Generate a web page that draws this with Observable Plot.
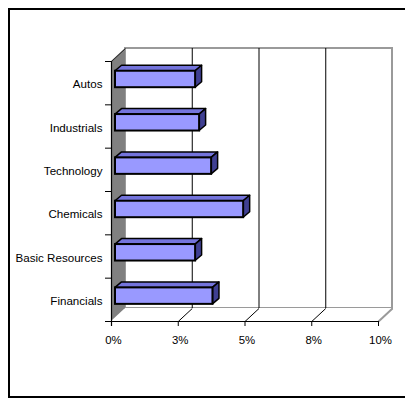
<!DOCTYPE html>
<html>
<head>
<meta charset="utf-8">
<script src="https://cdn.jsdelivr.net/npm/d3@7"></script>
<script src="https://cdn.jsdelivr.net/npm/@observablehq/plot@0.6"></script>
<style>
  html, body { margin: 0; padding: 0; background: white; }
  #wrap { position: relative; width: 405px; height: 407px; overflow: hidden; }
  #frame { position: absolute; left: 8px; top: 8px; width: 420px; height: 386px;
           border: 2px solid black; border-right: none; }
  #chart { position: absolute; left: 0; top: 0; }
</style>
</head>
<body>
<div id="wrap"><div id="frame"></div><div id="chart"></div></div>
<script>
// ---- data ----
const categories = ["Autos", "Industrials", "Technology", "Chemicals", "Basic Resources", "Financials"];
const values = [3.0, 3.15, 3.6, 4.8, 3.0, 3.65];       // percent
const xTicks = [0, 2.5, 5, 7.5, 10];
const xTickLabels = ["0%", "3%", "5%", "8%", "10%"];
const gridValues = [2.5, 5, 7.5];

// ---- layout constants (pixels) ----
const W = 405, H = 407;
const mL = 111, mR = 27, mT = 61, mB = 86;
const kx = (W - mL - mR) / 10;        // px per x unit
const ky = (H - mT - mB) / categories.length; // px per category
const WALL_DX = 14, WALL_DY = -13;    // depth of walls
const BAR_DX = 4, BAR_DY = -3.7;      // bar front face offset in depth
const BDX = 6.5, BDY = -5.5;          // bar depth
const wdx = WALL_DX / kx, wdy = WALL_DY / ky;
const bdx = BDX / kx, bdy = BDY / ky;
const n = categories.length;

const bars = categories.map((c, i) => ({c, i, v: values[i], y1: i + 0.31, y2: i + 0.69}));
const topPts = bars.flatMap(b => [
  {c: b.c, y: b.y1, x1: 0, x2: b.v},
  {c: b.c, y: b.y1 + bdy, x1: bdx, x2: b.v + bdx}
]);
const sidePts = bars.flatMap(b => [
  {c: b.c, x: b.v, y1: b.y1, y2: b.y2},
  {c: b.c, x: b.v + bdx, y1: b.y1 + bdy, y2: b.y2 + bdy}
]);
const bounds = d3.range(n + 1);

const chart = Plot.plot({
  width: W, height: H,
  marginLeft: mL, marginRight: mR, marginTop: mT, marginBottom: mB,
  x: {domain: [0, 10], axis: null},
  y: {domain: [0, n], reverse: true, axis: null},
  style: {background: "transparent", fontFamily: "'Liberation Sans', Arial, sans-serif", fontSize: "11px", color: "black"},
  marks: [
    // back wall
    Plot.rect([0], {x1: 0, x2: 10, y1: 0, y2: n, dx: WALL_DX, dy: WALL_DY, fill: "white", stroke: "#9a9a9a", strokeWidth: 2}),
    Plot.ruleX(gridValues, {y1: 0, y2: n, dx: WALL_DX, dy: WALL_DY, stroke: "black", strokeWidth: 1}),
    // floor
    Plot.areaX([{y: n, x1: 0, x2: 10}, {y: n + wdy, x1: wdx, x2: 10 + wdx}], {y: "y", x1: "x1", x2: "x2", fill: "white"}),
    Plot.link(gridValues, {x1: d => d, y1: n, x2: d => d + wdx, y2: n + wdy, stroke: "black", strokeWidth: 1}),
    Plot.link([10], {x1: d => d, y1: n, x2: d => d + wdx, y2: n + wdy, stroke: "#9a9a9a", strokeWidth: 2}),
    // left wall
    Plot.areaY([{x: 0, y1: 0, y2: n}, {x: wdx, y1: wdy, y2: n + wdy}], {x: "x", y1: "y1", y2: "y2", fill: "#808080"}),
    Plot.link([0], {x1: 0, y1: 0, x2: wdx, y2: wdy, stroke: "#222", strokeWidth: 1}),
    // axes
    Plot.ruleX([0], {y1: 0, y2: n + 5 / ky, stroke: "black", strokeWidth: 1.2}),
    Plot.ruleY([n], {x1: -6 / kx, x2: 10, stroke: "black", strokeWidth: 1.2}),
    Plot.ruleY(bounds, {x1: -6 / kx, x2: 0, stroke: "black", strokeWidth: 1}),
    Plot.ruleX(xTicks, {y1: n, y2: n + 5 / ky, stroke: "black", strokeWidth: 1}),
    // bars
    Plot.areaX(topPts, {y: "y", x1: "x1", x2: "x2", z: "c", fill: "#7474dc", stroke: "black", strokeWidth: 1.5, strokeLinejoin: "round", dx: BAR_DX, dy: BAR_DY}),
    Plot.areaY(sidePts, {x: "x", y1: "y1", y2: "y2", z: "c", fill: "#3f3f92", stroke: "black", strokeWidth: 1.5, strokeLinejoin: "round", dx: BAR_DX, dy: BAR_DY}),
    Plot.rect(bars, {x1: 0, x2: "v", y1: "y1", y2: "y2", fill: "#9999ff", stroke: "black", strokeWidth: 2, dx: BAR_DX, dy: BAR_DY}),
    // labels
    Plot.text(bars, {x: 0, y: d => d.i + 0.5, text: "c", textAnchor: "end", dx: -9, dy: 1.5, fontSize: 11.6, fill: "black"}),
    Plot.text(xTicks, {x: d => d, y: n, text: (d, i) => xTickLabels[i], dx: 2, dy: 19, fontSize: 11.4, fill: "black"})
  ]
});
document.getElementById("chart").appendChild(chart);
</script>
</body>
</html>
